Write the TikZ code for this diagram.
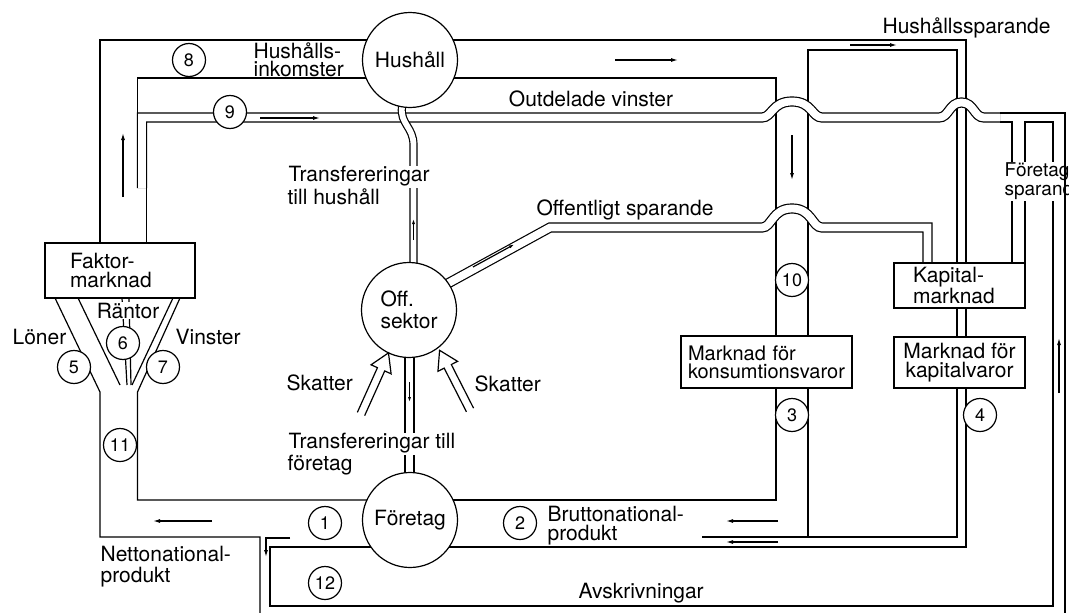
\documentclass[tikz,border=0pt]{standalone}
\usepackage{fontspec}
\setmainfont{TeX Gyre Heros}
\usetikzlibrary{arrows.meta}

% a band that bends up and passes over a vertical column
\newcommand\overpass[5]{-- ({#1-#5},#3) .. controls ({#1-#5+10},#3) and ({#1-#5+10},{#3-#4}) .. ({(#1+#2)/2},{#3-#4}) .. controls ({#2+#5-10},{#3-#4}) and ({#2+#5-10},#3) .. ({#2+#5},#3)}
\newcommand\whitebg[1]{{\setlength\fboxsep{1pt}\colorbox{white}{#1}}}

\tikzset{
  band/.style={double, double distance=7.8pt},
  tube/.style={double, double distance=5.8pt},
  flow/.style={-{Latex[length=7pt,width=4pt]}},
  thinflow/.style={-{Latex[length=6pt,width=3pt]}},
  sector/.style={circle, draw, fill=white, minimum size=95pt, inner sep=0pt, align=left},
  num/.style={circle, draw, fill=white, minimum size=33pt, inner sep=0pt, font=\fontsize{18}{18}\selectfont},
  market/.style={draw, fill=white, inner sep=0pt, align=center},
  lbl/.style={inner sep=0pt, align=left},
  pics/taxarrow/.style={code={\draw (0,-4) -- (49,-4) -- (49,-11) -- (67,0) -- (49,11) -- (49,4) -- (0,4);}}
}

\begin{document}
\begin{tikzpicture}[x=1pt, y=-1pt, line width=1.2pt, font=\fontsize{21}{18.5}\selectfont]
\useasboundingbox (0,0) rectangle (1077,613);

% household incomes and savings
\draw (100,243) -- (100,40) -- (966,40) -- (966,263);
\draw (137.5,113) -- (137.5,78) -- (776,78) -- (776,336);
\draw (808,336) -- (808,50) -- (957,50) -- (957,263);
\draw (146.5,188) -- (146.5,243);
% firms' saving and depreciation
\draw (1000,122) -- (1012,122) -- (1012,263);
\draw (1025,263) -- (1025,122) -- (1053,122) -- (1053,606) -- (270,606) -- (270,547) -- (380,547);
% factor payments
\draw (55,298) -- (100,392) -- (100,537) -- (260,537) -- (260,625);
\draw (78,298) -- (120,385);
\draw (122,298) -- (127,385);
\draw (129,298) -- (131,385);
\draw (173,298) -- (132,385);
\draw (180,298) -- (137.5,392) -- (137.5,500) -- (380,500);
% gross national product
\draw (440,500) -- (776,500) -- (776,388);
\draw (440,547) -- (966,547) -- (966,388);
\draw (702,537) -- (957,537) -- (957,388);
\draw (808,388) -- (808,537);
\draw (957,308) -- (957,337);
\draw (966,308) -- (966,337);

% bands that pass over the columns
\draw[band] (142,188) -- (142,117.5) \overpass{776}{808}{117.5}{16}{14} \overpass{957}{966}{117.5}{15}{18} -- (1000,117.5);
\draw[band] (425,296) -- (550,227.5) \overpass{776}{808}{227.5}{19}{14} -- (927.5,227.5) -- (927.5,270);
\draw[tube] (402,100) -- (402,107) .. controls (400,124) and (413.5,127) .. (413.5,145) -- (413.5,270);
\draw[band] (409.5,350) -- (409.5,480);

% sectors and markets
\node[sector] (hushall) at (410,60) {Hushåll};
\node[sector] (offsektor) at (409,310) {Off.\\[3pt]sektor};
\node[sector] (foretag) at (410,520) {Företag};
\node[market, minimum width=150pt, minimum height=55pt, text width=100pt, inner xsep=25pt, align=left] (faktor) at (120,270.5) {Faktor-\\marknad};
\node[market, minimum width=131pt, minimum height=45pt, text width=93pt, inner xsep=19pt, align=left] (kapmarknad) at (959.5,285.5) {Kapital-\\[1pt]marknad};
\node[market, minimum width=131pt, minimum height=51pt] (kapvaror) at (959.5,362.5) {Marknad för\\kapitalvaror};
\node[market, minimum width=171pt, minimum height=52pt, text width=157pt, inner xsep=7pt, align=left, font=\fontsize{20}{18}\selectfont] (konsvaror) at (766.5,362) {Marknad för\\konsumtionsvaror};

% flow numbers
\node[num] (n1) at (325,523) {1};
\node[num] (n2) at (520,523) {2};
\node[num] (n3) at (792,415) {3};
\node[num] (n4) at (980,415) {4};
\node[num] (n5) at (74,367) {5};
\node[num] (n6) at (123,343) {6};
\node[num] (n7) at (163,367) {7};
\node[num] (n8) at (189,60) {8};
\node[num] (n9) at (230,112) {9};
\node[num] (n10) at (792,280) {10};
\node[num] (n11) at (120,445) {11};
\node[num] (n12) at (325,583) {12};

% labels
\node[lbl, anchor=north west] (hhinkomst) at (253,42) {Hushålls-\\inkomster};
\node[lbl, anchor=base] (outdelade) at (591,106) {Outdelade vinster};
\node[lbl, anchor=base west] (hhspar) at (882,33) {Hushållssparande};
\node[lbl, anchor=north west] (transhh) at (287,165) {\whitebg{Transfereringar}\\till hushåll};
\node[lbl, anchor=base west] (offspar) at (536,215) {Offentligt sparande};
\node[lbl, anchor=base west] (loner) at (12,344) {Löner};
\node[lbl, anchor=base, fill=white, inner sep=1pt] (rantor) at (128,318) {Räntor};
\node[lbl, anchor=base west] (vinster) at (175,344) {Vinster};
\node[lbl, anchor=base west] (skattL) at (286,390) {Skatter};
\node[lbl, anchor=base west] (skattR) at (474,391) {Skatter};
\node[lbl, anchor=north west] (transfo) at (287,432) {\whitebg{Transfereringar till}\\företag};
\node[lbl, anchor=north west] (brutto) at (547,506) {Bruttonational-\\produkt};
\node[lbl, anchor=north west] (netto) at (100,546) {Nettonational-\\[2pt]produkt};
\node[lbl, anchor=base west] (avskr) at (578,598) {Avskrivningar};
\begin{scope}
\clip (990,140) rectangle (1068,215);
\node[lbl, anchor=north west, fill=white, inner sep=1pt, font=\fontsize{19}{17}\selectfont] (ftgspar) at (1003,161) {Företags-\\sparande};
\end{scope}
\draw (1000,113) -- (1065,113) -- (1065,625);

% taxes
\pic[rotate=65.8] at (361,414) {taxarrow};
\pic[rotate=117] at (470,410) {taxarrow};

% directions of flow
\draw[flow] (615,60) -- (678,60);
\draw[flow] (850,45) -- (897,45);
\draw[flow] (260,118) -- (320,118);
\draw[flow] (123,197) -- (123,133);
\draw[flow] (792,135) -- (792,180);
\draw[thinflow] (413.5,240) -- (413.5,218);
\draw[thinflow] (473,267) -- (515,244);
\draw[thinflow] (409.5,382) -- (409.5,403);
\draw[flow] (212,521) -- (153,521);
\draw[flow] (290,538) -- (266,538) -- (266,557);
\draw[flow] (778,521) -- (726,521);
\draw[flow] (778,542) -- (726,542);
\draw[flow] (1059,393) -- (1059,338);
\end{tikzpicture}
\end{document}
